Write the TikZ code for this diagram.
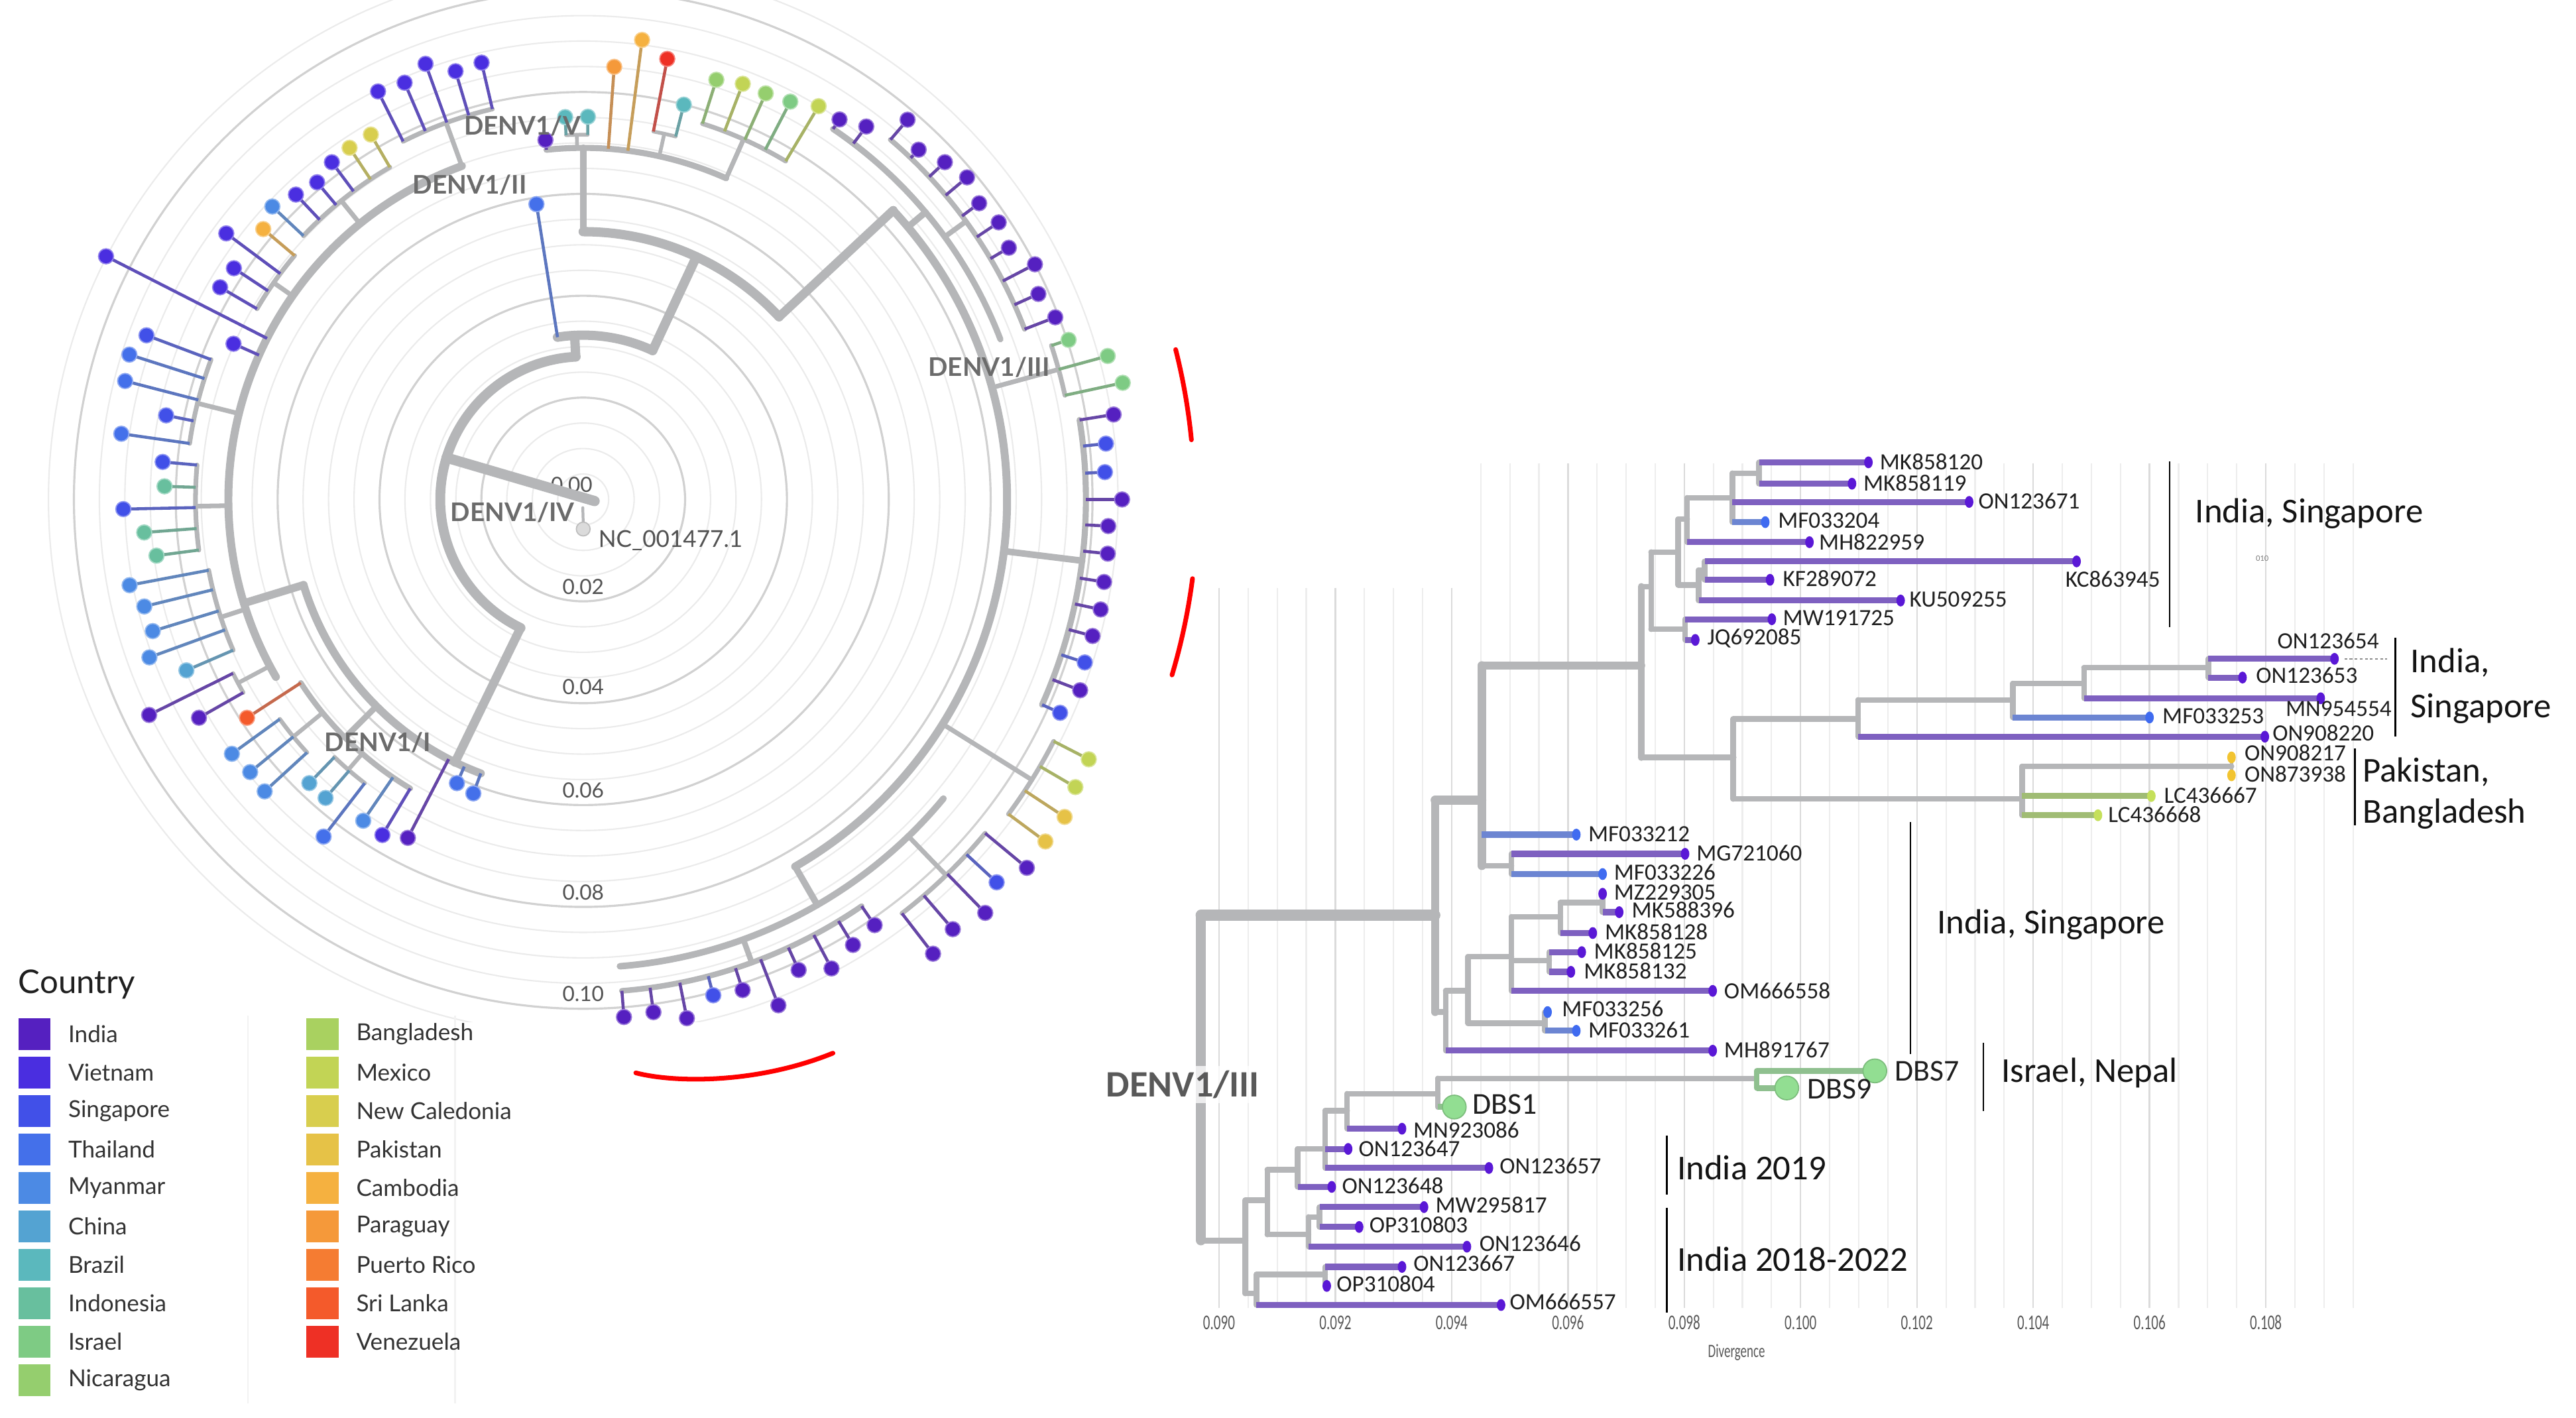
\documentclass[tikz,border=0pt]{standalone}
\usepackage{fontspec}
\setmainfont{Lato}
\newfontfamily\carl{Carlito}
\usepackage{graphicx}
\usetikzlibrary{calc}
\definecolor{cIndia}{HTML}{5520C0}
\definecolor{cVietnam}{HTML}{4A2EE0}
\definecolor{cSingapore}{HTML}{4150E8}
\definecolor{cThailand}{HTML}{4470EA}
\definecolor{cMyanmar}{HTML}{4C8AE4}
\definecolor{cChina}{HTML}{54A3D2}
\definecolor{cBrazil}{HTML}{5BB8BD}
\definecolor{cIndonesia}{HTML}{68BF9E}
\definecolor{cIsrael}{HTML}{7ECB84}
\definecolor{cNicaragua}{HTML}{95CE6E}
\definecolor{cBangladesh}{HTML}{A9D160}
\definecolor{cMexico}{HTML}{C2D455}
\definecolor{cNewCal}{HTML}{D8CE4E}
\definecolor{cPakistan}{HTML}{E6C247}
\definecolor{cCambodia}{HTML}{F5B140}
\definecolor{cParaguay}{HTML}{F5993A}
\definecolor{cPuertoRico}{HTML}{F57C32}
\definecolor{cSriLanka}{HTML}{F45A2B}
\definecolor{cVenezuela}{HTML}{EE3025}
\definecolor{brgrey}{HTML}{B5B6B8}
\definecolor{barP}{HTML}{7E60C0}
\definecolor{barB}{HTML}{6C85D2}
\definecolor{barG}{HTML}{A0BC74}
\definecolor{barD}{HTML}{8FC08F}
\definecolor{dotP}{HTML}{5A18D6}
\definecolor{dotB}{HTML}{3F6BF0}
\definecolor{dotY}{HTML}{F2C431}
\definecolor{dotG}{HTML}{C5E05A}
\definecolor{dotD}{HTML}{92DE92}
% circular tree helpers: angle, tip radius, base radius, colour
\newcommand{\ctip}[4]{\draw[line width=1.3pt, draw=#4!60!gray] (#1:#3) -- (#1:#2);
  \fill[fill=#4, draw=#4!60!white, line width=0.5pt] (#1:#2) circle[radius=4.6];}
% radius, start angle, end angle, width
\newcommand{\carc}[4]{\draw[cbr, line width=#4] (#2:#1) arc[start angle=#2, end angle=#3, radius=#1];}
% angle, r1, r2, width
\newcommand{\crad}[4]{\draw[cbr, line width=#4] (#1:#2) -- (#1:#3);}
% rectangular tree tip: x1, x2, y, bar colour, dot colour, name, label x, label y
\newcommand{\rtip}[8]{\draw[rbar, draw=#4] (#1,#3) -- (#2,#3);
  \fill[#5] (#2,#3) ellipse[x radius=2.6, y radius=3.6];
  \node[tlab] (#6) at (#7,#8) {#6};}
\begin{document}
\begin{tikzpicture}[x=0.02478cm, y=-0.02478cm,
  cbr/.style={draw=brgrey, line cap=round},
  rg/.style={draw=brgrey, line width=2.4pt, line cap=round},
  rbar/.style={line width=2.6pt, line cap=butt},
  tlab/.style={anchor=west, inner sep=0pt, font=\carl\fontsize{10}{12}\selectfont, text=black!88},
  blab/.style={anchor=west, inner sep=0pt, font=\carl\fontsize{15}{18}\selectfont, text=black!92},
  clab/.style={inner sep=0pt, font=\fontsize{11}{13}\selectfont\bfseries, text=black!58},
  ringlab/.style={inner sep=0pt, font=\fontsize{9}{11}\selectfont, text=black!68},
  leglab/.style={anchor=west, inner sep=0pt, font=\fontsize{10}{12}\selectfont, text=black!80},
  axlab/.style={inner sep=0pt, font=\carl\fontsize{6}{7}\selectfont, text=black!65},
  brk/.style={draw=black, line width=0.75pt}]
\useasboundingbox (0,0) rectangle (1568,863);
\fill[white] (0,0) rectangle (1568,863);

%================ LEFT: circular tree =================
\begin{scope}
\clip (0,0) rectangle (716,622);
\begin{scope}[shift={(355,304)}]
\foreach \k in {1,...,21}{\draw[draw=black!8, line width=0.6pt] (0,0) circle[radius=15.5*\k];}
\foreach \r in {62,124,186,248,310}{\draw[draw=black!18, line width=0.9pt] (0,0) circle[radius=\r];}
\end{scope}
\end{scope}
\node[ringlab] (r0) at (348,295) {0.00};
\node[ringlab] (r2) at (355,357) {0.02};
\node[ringlab] (r4) at (355,418) {0.04};
\node[ringlab] (r6) at (355,481) {0.06};
\node[ringlab] (r8) at (355,543) {0.08};
\node[ringlab] (r10) at (355,605) {0.10};

\begin{scope}[shift={(355,304)}]
% root and outgroup
\draw[cbr, line width=1.2pt] (93:5) -- (90:14);
\fill[fill=black!14, draw=black!26, line width=0.5pt] (90:18) circle[radius=4.2];
\draw[cbr, line width=4.4pt] (8:7) -- (197:87);
% backbone
\carc{87}{116}{267}{4.2pt}
\crad{267}{87}{100}{4pt}
\carc{100}{261}{295}{4pt}
\crad{295}{100}{163}{4pt}
\carc{163}{270}{317}{4pt}
\crad{270}{163}{214}{3pt}
\crad{317}{163}{258}{3.8pt}
\crad{116}{87}{178}{3.8pt}
% DENV1/I
\carc{178}{110.5}{163}{3.4pt}
\crad{135}{178}{205}{2.6pt}
\carc{205}{120.9}{147}{2.4pt}
\crad{131}{205}{218}{1.8pt}
\carc{218}{127.6}{134}{1.8pt}
\crad{140.7}{205}{228}{1.8pt}
\carc{228}{137.5}{144.1}{1.8pt}
\crad{163}{178}{216}{3.4pt}
\carc{216}{150}{250}{3.4pt}
\crad{152}{216}{238}{1.8pt}
\carc{238}{150.4}{153.6}{1.8pt}
\crad{162}{216}{232}{2pt}
\carc{232}{156.7}{169.3}{2pt}
\crad{179}{216}{236}{2pt}
\carc{236}{172.5}{185.1}{2pt}
\crad{194}{216}{242}{2pt}
\carc{242}{188.1}{200.6}{2pt}
\crad{215}{216}{230}{2pt}
\carc{230}{210.3}{220.2}{2pt}
\crad{231}{216}{234}{2pt}
\carc{234}{223.3}{239.8}{2pt}
\crad{250}{216}{244}{2pt}
\carc{244}{243.3}{256.9}{2pt}
% DENV1/V
\carc{214}{264}{294}{2.6pt}
\crad{269}{214}{222}{1.6pt}
\carc{222}{267.3}{270.7}{1.6pt}
\crad{282.5}{214}{228}{1.6pt}
\carc{228}{280.8}{284.3}{1.6pt}
\crad{294}{214}{240}{2pt}
\carc{240}{287.6}{300.9}{2pt}
% DENV1/III
\carc{258}{317}{420}{3.4pt}
\crad{320}{258}{272}{2.8pt}
\carc{272}{304}{339}{2.6pt}
\crad{324}{272}{288}{2.2pt}
\carc{288}{310.5}{338.9}{2.2pt}
\crad{344.7}{258}{300}{2pt}
\carc{300}{341.8}{347.8}{2pt}
\crad{367}{258}{306}{2.8pt}
\carc{306}{350.9}{384.1}{2.6pt}
\crad{392}{258}{322}{2pt}
\carc{322}{387.2}{396.5}{2pt}
\crad{420}{258}{285}{2.8pt}
\carc{285}{399.7}{445.5}{2.8pt}
\crad{406}{285}{318}{2pt}
\carc{318}{399.7}{412.4}{2pt}
\crad{430}{285}{300}{2.4pt}
\carc{300}{415.6}{445.5}{2.4pt}
% tips DENV1/I
\ctip{110.5}{191}{178}{cThailand}
\ctip{114}{189}{178}{cThailand}
\ctip{117.4}{232}{178}{cIndia}
\ctip{120.9}{238}{205}{cVietnam}
\ctip{124.4}{237}{205}{cMyanmar}
\ctip{127.6}{259}{218}{cThailand}
\ctip{130.8}{240}{218}{cChina}
\ctip{134}{240}{218}{cChina}
\ctip{137.5}{263}{228}{cMyanmar}
\ctip{140.7}{262}{228}{cMyanmar}
\ctip{144.1}{264}{228}{cMyanmar}
\ctip{147}{244}{205}{cSriLanka}
\ctip{150.4}{269}{238}{cIndia}
\ctip{153.6}{295}{238}{cIndia}
\ctip{156.7}{263}{232}{cChina}
\ctip{160}{281}{232}{cMyanmar}
\ctip{163}{274}{232}{cMyanmar}
\ctip{166.3}{275}{232}{cMyanmar}
\ctip{169.3}{281}{232}{cMyanmar}
\ctip{172.5}{262}{236}{cIndonesia}
\ctip{175.7}{268}{236}{cIndonesia}
\ctip{178.8}{280}{236}{cSingapore}
\ctip{181.8}{255}{236}{cIndonesia}
\ctip{185.1}{257}{236}{cSingapore}
\ctip{188.1}{284}{242}{cThailand}
\ctip{191.4}{259}{242}{cSingapore}
\ctip{194.5}{288}{242}{cThailand}
\ctip{197.7}{290}{242}{cThailand}
\ctip{200.6}{284}{242}{cSingapore}
\ctip{204}{233}{216}{cVietnam}
\ctip{207}{326}{216}{cVietnam}
\ctip{210.3}{256}{230}{cVietnam}
\ctip{213.5}{255}{230}{cVietnam}
\ctip{216.7}{271}{230}{cVietnam}
\ctip{220.2}{255}{230}{cCambodia}
\ctip{223.3}{260}{234}{cMyanmar}
\ctip{226.7}{255}{234}{cVietnam}
\ctip{230}{252}{234}{cVietnam}
\ctip{233.3}{256}{234}{cVietnam}
\ctip{236.4}{257}{234}{cNewCal}
\ctip{239.8}{257}{234}{cNewCal}
\ctip{243.3}{278}{244}{cVietnam}
\ctip{246.8}{276}{244}{cVietnam}
\ctip{250.1}{282}{244}{cVietnam}
\ctip{253.4}{272}{244}{cVietnam}
\ctip{256.9}{273}{244}{cVietnam}
% DENV1/II
\ctip{261}{182}{100}{cThailand}
% DENV1/V
\ctip{264}{220}{214}{cIndia}
\ctip{267.3}{233}{222}{cBrazil}
\ctip{270.7}{233}{222}{cBrazil}
\ctip{274.1}{264}{214}{cParaguay}
\ctip{277.3}{282}{214}{cCambodia}
\ctip{280.8}{273}{228}{cVenezuela}
\ctip{284.3}{248}{228}{cBrazil}
\ctip{287.6}{268}{240}{cNicaragua}
\ctip{291}{271}{240}{cMexico}
\ctip{294.2}{271}{240}{cNicaragua}
\ctip{297.5}{273}{240}{cIsrael}
\ctip{300.9}{279}{240}{cMexico}
% DENV1/III
\ctip{304}{279}{272}{cIndia}
\ctip{307.2}{285}{272}{cIndia}
\ctip{310.5}{304}{288}{cIndia}
\ctip{313.8}{295}{288}{cIndia}
\ctip{317}{301}{288}{cIndia}
\ctip{320}{305}{288}{cIndia}
\ctip{323.2}{301}{288}{cIndia}
\ctip{326.3}{304}{288}{cIndia}
\ctip{329.4}{301}{288}{cIndia}
\ctip{332.5}{310}{288}{cIndia}
\ctip{335.7}{304}{288}{cIndia}
\ctip{338.9}{308}{288}{cIndia}
\ctip{341.8}{311}{300}{cIsrael}
\ctip{344.7}{331}{300}{cIsrael}
\ctip{347.8}{336}{300}{cIsrael}
\ctip{350.9}{327}{306}{cIndia}
\ctip{353.9}{320}{306}{cSingapore}
\ctip{357}{318}{306}{cSingapore}
\ctip{360}{328}{306}{cIndia}
\ctip{362.9}{320}{306}{cIndia}
\ctip{365.9}{321}{306}{cIndia}
\ctip{369}{321}{306}{cIndia}
\ctip{372}{322}{306}{cIndia}
\ctip{375}{321}{306}{cIndia}
\ctip{378}{321}{306}{cSingapore}
\ctip{381}{324}{306}{cIndia}
\ctip{384.1}{318}{306}{cSingapore}
\ctip{387.2}{346}{322}{cMexico}
\ctip{390.3}{347}{322}{cMexico}
\ctip{393.4}{351}{322}{cPakistan}
\ctip{396.5}{350}{322}{cPakistan}
\ctip{399.7}{351}{318}{cIndia}
\ctip{402.8}{343}{318}{cSingapore}
\ctip{405.8}{351}{318}{cIndia}
\ctip{409.3}{345}{318}{cIndia}
\ctip{412.4}{349}{318}{cIndia}
\ctip{415.6}{314}{300}{cIndia}
\ctip{418.8}{317}{300}{cIndia}
\ctip{422.1}{323}{300}{cIndia}
\ctip{425.4}{315}{300}{cIndia}
\ctip{428.9}{330}{300}{cIndia}
\ctip{432}{314}{300}{cIndia}
\ctip{435.3}{312}{300}{cSingapore}
\ctip{438.7}{322}{300}{cIndia}
\ctip{442.2}{315}{300}{cIndia}
\ctip{445.5}{316}{300}{cIndia}
% red highlight
\draw[red, line width=2pt, line cap=round] (345.8:372) arc[start angle=345.8, end angle=354.4, radius=372];
\draw[red, line width=2pt, line cap=round] (7.4:374) arc[start angle=7.4, end angle=16.6, radius=374];
\end{scope}
\draw[red, line width=2pt, line cap=round] (387,653) .. controls (410,659) and (460,660) .. (507,641);

\node[clab] (cV) at (318,76.6) {DENV1/V};
\node[clab] (cII) at (286,112.6) {DENV1/II};
\node[clab] (cIII) at (602,223.4) {DENV1/III};
\node[clab] (cI) at (230,452) {DENV1/I};
\node[clab] (cIV) at (312,312) {DENV1/IV};
\node[anchor=west, inner sep=0pt, font=\fontsize{10}{12}\selectfont, text=black!68] (nc) at (364,329) {NC\_001477.1};

% legend
\node[anchor=west, inner sep=0pt, font=\fontsize{14}{16}\selectfont, text=black!88] (country) at (11,599) {Country};
\draw[draw=black!5, line width=0.6pt] (151,618) -- (151,854);
\draw[draw=black!5, line width=0.6pt] (277,618) -- (277,854);
\foreach \c/\n [count=\i from 0] in {cIndia/India, cVietnam/Vietnam, cSingapore/Singapore, cThailand/Thailand, cMyanmar/Myanmar, cChina/China, cBrazil/Brazil, cIndonesia/Indonesia, cIsrael/Israel, cNicaragua/Nicaragua}{
  \pgfmathsetmacro\yy{629.5+23.4*\i}
  \fill[\c] (11.2,\yy-9.6) rectangle (30.6,\yy+9.6);
  \node[leglab] (leg\c) at (41.3,\yy) {\n};
}
\foreach \c/\n [count=\i from 0] in {cBangladesh/Bangladesh, cMexico/Mexico, cNewCal/New Caledonia, cPakistan/Pakistan, cCambodia/Cambodia, cParaguay/Paraguay, cPuertoRico/Puerto Rico, cSriLanka/Sri Lanka, cVenezuela/Venezuela}{
  \pgfmathsetmacro\yy{629.5+23.4*\i}
  \fill[\c] (186.5,\yy-9.6) rectangle (206.2,\yy+9.6);
  \node[leglab] (leg\c) at (216.6,\yy) {\n};
}

%================ RIGHT: rectangular tree =================
\foreach \k in {0,...,39}{
  \pgfmathsetmacro\xx{742+17.7*\k}
  \pgfmathsetmacro\yt{282+76*(\xx<890)}
  \draw[draw=black!7, line width=0.6pt] (\xx,\yt) -- (\xx,796);
}
\foreach \k in {0,4,...,36}{
  \pgfmathsetmacro\xx{742+17.7*\k}
  \pgfmathsetmacro\yt{282+76*(\xx<890)}
  \draw[draw=black!14, line width=0.7pt] (\xx,\yt) -- (\xx,796);
}
\foreach \v [count=\i from 0] in {0.090,0.092,0.094,0.096,0.098,0.100,0.102,0.104,0.106,0.108}{
  \node[axlab] (ax\i) at (742+70.8*\i,805) {\scalebox{1}[1.5]{\v}};
}
\node[axlab, font=\carl\fontsize{5.4}{6}\selectfont] (divergence) at (1057,823) {\scalebox{1}[1.5]{Divergence}};
\node[inner sep=0pt, font=\carl\fontsize{3.6}{4}\selectfont, text=black!50] (tiny) at (1377,340) {010};

% internal branches
\draw[rg, line width=4.2pt] (731,557) -- (731,755);
\draw[rg, line width=4.6pt] (731,557) -- (873.5,557);
\draw[rg, line width=2.6pt] (731,755) -- (758,755);
\draw[rg, line width=3.4pt] (873.5,487) -- (873.5,616);
\draw[rg, line width=3.8pt] (873.5,487) -- (902,487);
\draw[rg] (873.5,616) -- (880,616);
\draw[rg, line width=3.6pt] (902,405) -- (902,527);
\draw[rg, line width=3.4pt] (902,405) -- (999,405);
\draw[rg] (902,527) -- (920,527);
\draw[rg] (920,519.7) -- (920,532);
\draw[rg] (880,603) -- (880,639.5);
\draw[rg] (880,603) -- (893.6,603);
\draw[rg] (893.6,582.3) -- (893.6,622.8);
\draw[rg] (893.6,582.3) -- (920,582.3);
\draw[rg] (893.6,622.8) -- (940.4,622.8);
\draw[rg] (920,558) -- (920,603.1);
\draw[rg] (920,558) -- (949.8,558);
\draw[rg] (920,584.6) -- (943,584.6);
\draw[rg] (949.8,549.4) -- (949.8,567.9);
\draw[rg] (949.8,549.4) -- (975.5,549.4);
\draw[rg] (975.5,544) -- (975.5,555.2);
\draw[rg] (943,579.5) -- (943,591.5);
\draw[rg] (940.4,616) -- (940.4,627.4);
\draw[rg, line width=3pt] (999,357) -- (999,461);
\draw[rg] (999,357) -- (1005,357);
\draw[rg, line width=2.8pt] (999,461) -- (1055,461);
\draw[rg] (1005,336) -- (1005,383);
\draw[rg] (1005,336) -- (1021.5,336);
\draw[rg] (1005,383) -- (1025.7,383);
\draw[rg] (1021.5,316) -- (1021.5,356);
\draw[rg] (1021.5,316) -- (1027,316);
\draw[rg] (1021.5,356) -- (1034,356);
\draw[rg] (1027,303) -- (1027,330);
\draw[rg] (1027,303) -- (1054.5,303);
\draw[rg] (1054.5,288) -- (1054.5,317.8);
\draw[rg] (1054.5,288) -- (1070.7,288);
\draw[rg] (1070.7,281.4) -- (1070.7,294.4);
\draw[rg] (1034,347) -- (1034,365.5);
\draw[rg] (1034,347) -- (1037.6,347);
\draw[rg] (1037.6,341.7) -- (1037.6,352.9);
\draw[rg] (1025.7,376.9) -- (1025.7,389.5);
\draw[rg] (1055,437.6) -- (1055,486.3);
\draw[rg] (1055,437.6) -- (1131,437.6);
\draw[rg] (1055,486.3) -- (1230.8,486.3);
\draw[rg] (1131,426) -- (1131,448.4);
\draw[rg] (1131,426) -- (1225.2,426);
\draw[rg] (1225.2,416) -- (1225.2,436.7);
\draw[rg] (1225.2,416) -- (1268.5,416);
\draw[rg] (1268.5,406.4) -- (1268.5,425);
\draw[rg] (1268.5,406.4) -- (1344.2,406.4);
\draw[rg] (1344.2,401) -- (1344.2,412.4);
\draw[rg] (1230.8,466.5) -- (1230.8,496.2);
\draw[rg] (1230.8,466.5) -- (1358.3,466.5);
\draw[rg, line width=1.6pt] (1358.3,461) -- (1358.3,471.9);
\draw[rg] (758,730.5) -- (758,787.3);
\draw[rg] (758,730.5) -- (771.4,730.5);
\draw[rg] (758,787.3) -- (764.8,787.3);
\draw[rg] (764.8,775.7) -- (764.8,794.3);
\draw[rg] (764.8,775.7) -- (806.6,775.7);
\draw[rg] (806.6,771.1) -- (806.6,782.7);
\draw[rg] (771.4,712) -- (771.4,751.4);
\draw[rg] (771.4,712) -- (789.9,712);
\draw[rg] (771.4,751.4) -- (796.5,751.4);
\draw[rg] (796.5,740.7) -- (796.5,758.8);
\draw[rg] (796.5,740.7) -- (803.2,740.7);
\draw[rg] (803.2,734.7) -- (803.2,746.8);
\draw[rg] (789.9,699.3) -- (789.9,722.4);
\draw[rg] (789.9,699.3) -- (806.6,699.3);
\draw[rg] (806.6,676.1) -- (806.6,710.9);
\draw[rg] (806.6,676.1) -- (820,676.1);
\draw[rg] (820,665.7) -- (820,687);
\draw[rg] (820,665.7) -- (875.2,665.7);
\draw[rg] (875.2,656.4) -- (875.2,673.8);
\draw[rg] (875.2,656.4) -- (1069.2,656.4);
\draw[rg, draw=barD] (1069.2,651.8) -- (1069.2,662.2);

% tips upper
\rtip{1070.7}{1137.3}{281.4}{barP}{dotP}{MK858120}{1144}{281}
\rtip{1070.7}{1127.3}{294.4}{barP}{dotP}{MK858119}{1134}{294}
\rtip{1054.5}{1198.6}{305.5}{barP}{dotP}{ON123671}{1204}{305}
\rtip{1054.5}{1074.5}{317.8}{barB}{dotB}{MF033204}{1082}{317}
\rtip{1027}{1101.4}{330}{barP}{dotP}{MH822959}{1107}{330}
\rtip{1037.6}{1264}{341.7}{barP}{dotP}{KC863945}{1257}{352.5}
\rtip{1037.6}{1077.4}{352.9}{barP}{dotP}{KF289072}{1085}{352}
\rtip{1034}{1156.9}{365.5}{barP}{dotP}{KU509255}{1162}{365}
\rtip{1025.7}{1078.5}{376.9}{barP}{dotP}{MW191725}{1085}{376}
\rtip{1025.7}{1031.9}{389.5}{barP}{dotP}{JQ692085}{1039}{388.5}
\rtip{1344.2}{1421}{401}{barP}{dotP}{ON123654}{1386}{390}
\draw[black!45, line width=0.5pt, dash pattern=on 1.2pt off 1pt] (1427,401) -- (1453,401);
\rtip{1344.2}{1365}{412.4}{barP}{dotP}{ON123653}{1373}{411}
\rtip{1268.5}{1412.6}{425}{barP}{dotP}{MN954554}{1391}{431.5}
\rtip{1225.2}{1308.4}{436.7}{barB}{dotB}{MF033253}{1316}{436}
\rtip{1131}{1378.6}{448.4}{barP}{dotP}{ON908220}{1383}{446}
\rtip{1358.3}{1358.3}{461}{dotY}{dotY}{ON908217}{1366}{458.3}
\rtip{1358.3}{1358.3}{471.9}{dotY}{dotY}{ON873938}{1366}{471}
\rtip{1230.8}{1309.5}{484.5}{barG}{dotG}{LC436667}{1317}{484}
\rtip{1230.8}{1277}{496.2}{barG}{dotG}{LC436668}{1283}{495.6}
% tips lower
\rtip{902}{959.5}{508}{barB}{dotB}{MF033212}{966.5}{507.5}
\rtip{920}{1025.7}{519.7}{barP}{dotP}{MG721060}{1032.4}{519}
\rtip{920}{975.5}{532}{barB}{dotB}{MF033226}{982.2}{531}
\rtip{975.5}{975.5}{544}{barP}{dotP}{MZ229305}{982.2}{543}
\rtip{975.5}{985.6}{555.2}{barP}{dotP}{MK588396}{993}{554}
\rtip{949.8}{969.5}{567.9}{barP}{dotP}{MK858128}{976.6}{567}
\rtip{943}{962.8}{579.5}{barP}{dotP}{MK858125}{970}{579}
\rtip{943}{956.2}{591.5}{barP}{dotP}{MK858132}{963.8}{591}
\rtip{920}{1042.5}{603.1}{barP}{dotP}{OM666558}{1049.2}{603}
\rtip{940.4}{942}{616}{barB}{dotB}{MF033256}{950.5}{614}
\rtip{940.4}{959.5}{627.4}{barB}{dotB}{MF033261}{966.5}{627}
\rtip{880}{1042.5}{639.5}{barP}{dotP}{MH891767}{1049.2}{639}
\draw[rbar, draw=barD] (1069.2,651.8) -- (1141.2,651.8);
\draw[rbar, draw=barD] (1069.2,662.2) -- (1087.6,662.2);
\draw[rbar, draw=barD] (875.2,673.8) -- (885.2,673.8);
\fill[dotD, draw=dotD!85!black, line width=0.5pt] (1141.2,651.8) circle[radius=7.2];
\fill[dotD, draw=dotD!85!black, line width=0.5pt] (1087.6,662.2) circle[radius=7.2];
\fill[dotD, draw=dotD!85!black, line width=0.5pt] (885.2,673.8) circle[radius=7.2];
\node[tlab, font=\carl\fontsize{13}{15}\selectfont] (DBS7) at (1153,651.8) {DBS7};
\node[tlab, font=\carl\fontsize{13}{15}\selectfont] (DBS9) at (1100,663) {DBS9};
\node[tlab, font=\carl\fontsize{13}{15}\selectfont] (DBS1) at (896,672.2) {DBS1};
\rtip{820}{853.4}{687}{barP}{dotP}{MN923086}{860}{688}
\rtip{806.6}{820.6}{699.3}{barP}{dotP}{ON123647}{826.7}{699}
\rtip{806.6}{906.3}{710.9}{barP}{dotP}{ON123657}{912.6}{709.5}
\rtip{789.9}{810.6}{722.4}{barP}{dotP}{ON123648}{816.6}{721.6}
\rtip{803.2}{866.8}{734.7}{barP}{dotP}{MW295817}{873.5}{733.5}
\rtip{803.2}{827.3}{746.8}{barP}{dotP}{OP310803}{833.3}{745.5}
\rtip{796.5}{892.9}{758.8}{barP}{dotP}{ON123646}{900.3}{757}
\rtip{806.6}{853.4}{771.1}{barP}{dotP}{ON123667}{860.1}{769}
\rtip{806.6}{807.6}{782.7}{barP}{dotP}{OP310804}{813.3}{781.3}
\rtip{764.8}{913.7}{794.3}{barP}{dotP}{OM666557}{918.7}{792.5}

% root label
\node[inner sep=2pt, fill=white, fill opacity=0.75, text opacity=1, font=\carl\fontsize{16}{18}\selectfont\bfseries, text=black!65] (denv3) at (720,660) {DENV1/III};

% brackets
\draw[brk] (1320.6,280.8) -- (1320.6,381.8);
\node[blab] (b1) at (1336,312.4) {India, Singapore};
\draw[brk] (1458,388) -- (1458,448.4);
\node[blab] (b2a) at (1467,403.4) {India,};
\node[blab] (b2b) at (1467,431.3) {Singapore};
\draw[brk] (1433.3,455.6) -- (1433.3,502.5);
\node[blab] (b3a) at (1438,470) {Pakistan,};
\node[blab] (b3b) at (1438,495.3) {Bangladesh};
\draw[brk] (1162.9,500.3) -- (1162.9,641.5);
\node[blab] (b4) at (1178.8,562.8) {India, Singapore};
\draw[brk] (1207.3,634.6) -- (1207.3,676.3);
\node[blab] (b5) at (1218,653.2) {Israel, Nepal};
\draw[brk] (1014.7,691) -- (1014.7,727);
\node[blab] (b6) at (1020.7,710.9) {India 2019};
\draw[brk] (1014.7,735) -- (1014.7,799);
\node[blab] (b7) at (1020.7,766.5) {India 2018-2022};
\end{tikzpicture}
\end{document}
